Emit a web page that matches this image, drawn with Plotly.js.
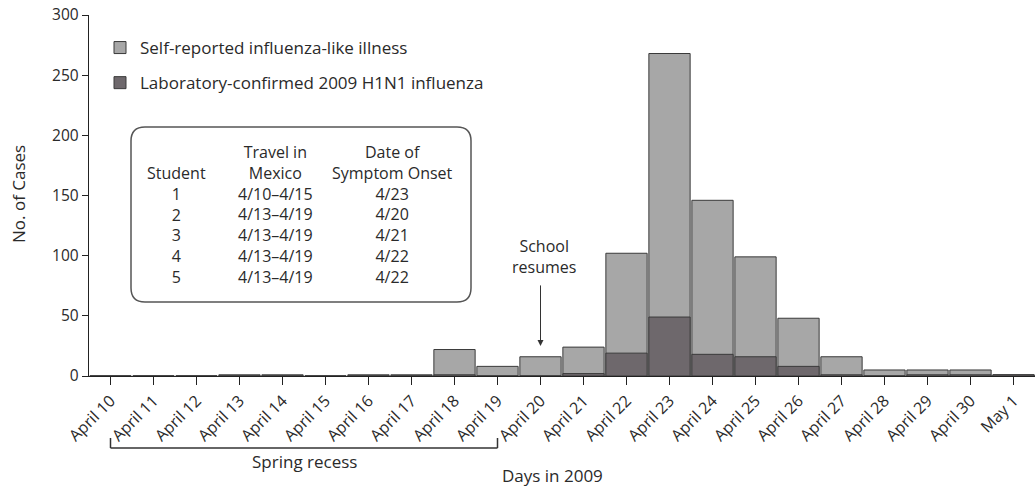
<!DOCTYPE html>
<html>
<head>
<meta charset="utf-8">
<script src="https://cdn.plot.ly/plotly-3.0.1.min.js"></script>
<style>html,body{margin:0;padding:0;background:#fff;}</style>
</head>
<body>
<div id="chart" style="width:1035px;height:488px;"></div>
<script>
// ---- data ----
const days = ["April 10","April 11","April 12","April 13","April 14","April 15","April 16","April 17",
  "April 18","April 19","April 20","April 21","April 22","April 23","April 24","April 25","April 26",
  "April 27","April 28","April 29","April 30","May 1"];
const selfReported = [0,0,0,1,1,0,1,1,22,8,16,24,102,268,146,99,48,16,5,5,5,1];
const labConfirmed = [0,0,0,0,0,0,0,0,1,0,0,2,19,49,18,16,8,1,0,1,1,1];
const yTicks = [0,50,100,150,200,250,300];

const students = ["1","2","3","4","5"];
const travelInMexico = ["4/10\u20134/15","4/13\u20134/19","4/13\u20134/19","4/13\u20134/19","4/13\u20134/19"];
const symptomOnset = ["4/23","4/20","4/21","4/22","4/22"];

// ---- layout helpers (pixel -> paper) ----
const W = 1035, H = 488, ML = 89, MR = 0, MT = 15, MB = 112;
const PW = W - ML - MR, PH = H - MT - MB;
const px = x => (x - ML) / PW;
const py = y => (H - MB - y) / PH;

const FONT = "Open Sans, DejaVu Sans, sans-serif";
const TXT = "#2a2a2a";

const traces = [
  {type:"bar", name:"Self-reported influenza-like illness", x:days, y:selfReported,
   marker:{color:"#a7a7a7", line:{color:"#3a3a3a", width:1}}, legendgroup:"a"},
  {type:"bar", name:"Laboratory-confirmed 2009 H1N1 influenza", x:days, y:labConfirmed,
   marker:{color:"#6e686c", line:{color:"#3a3a3a", width:1}}, legendgroup:"b"}
];

// rounded rectangle for the table box
function roundRect(x0,y0,x1,y1,r){
  const X = v => px(v), Y = v => py(v);
  return `M ${X(x0+r)},${Y(y0)} L ${X(x1-r)},${Y(y0)} Q ${X(x1)},${Y(y0)} ${X(x1)},${Y(y0+r)} ` +
         `L ${X(x1)},${Y(y1-r)} Q ${X(x1)},${Y(y1)} ${X(x1-r)},${Y(y1)} ` +
         `L ${X(x0+r)},${Y(y1)} Q ${X(x0)},${Y(y1)} ${X(x0)},${Y(y1-r)} ` +
         `L ${X(x0)},${Y(y0+r)} Q ${X(x0)},${Y(y0)} ${X(x0+r)},${Y(y0)} Z`;
}

const shapes = [
  {type:"path", xref:"paper", yref:"paper", path:roundRect(131,127,471,302,14),
   line:{color:"#555", width:1.5}, fillcolor:"rgba(255,255,255,0)"},
  // spring recess bracket
  {type:"line", xref:"x", yref:"paper", x0:days[0], x1:days[0], y0:py(438), y1:py(448), line:{color:"#333", width:1.5}},
  {type:"line", xref:"x", yref:"paper", x0:days[0], x1:days[9], y0:py(448), y1:py(448), line:{color:"#333", width:1.5}},
  {type:"line", xref:"x", yref:"paper", x0:days[9], x1:days[9], y0:py(438), y1:py(448), line:{color:"#333", width:1.5}}
];

const ann = [];
const tfont = {family:FONT, size:17, color:TXT};
function txt(x, y, s, extra){ ann.push(Object.assign({xref:"paper", yref:"paper", x:px(x), y:py(y), text:s,
  showarrow:false, xanchor:"center", yanchor:"middle", font:tfont}, extra||{})); }

// table: one multi-line text per column (line pitch ~20.8px at 16px)
const TF = {family:FONT, size:16, color:TXT};
const colStudent = 176, colTravel = 275, colOnset = 392;
const TOP = 140; // top of first line
function col(x, lines){ ann.push({xref:"paper", yref:"paper", x:px(x), y:py(TOP), text:lines.join("<br>"),
  showarrow:false, xanchor:"center", yanchor:"top", align:"center", font:TF, borderpad:0}); }
col(colTravel, ["Travel in", "Mexico"].concat(travelInMexico));
col(colOnset, ["Date of", "Symptom Onset"].concat(symptomOnset));
ann.push({xref:"paper", yref:"paper", x:px(colStudent), y:py(TOP + 20.8), text:["Student"].concat(students).join("<br>"),
  showarrow:false, xanchor:"center", yanchor:"top", align:"center", font:TF, borderpad:0});

// school resumes
txt(544, 256, "School<br>resumes", {font:{family:FONT, size:16, color:TXT}});
ann.push({xref:"x", yref:"y", x:days[10], y:selfReported[10] + 9, text:"", showarrow:true,
  ax:0, ay:-62, arrowhead:2, arrowsize:1.2, arrowwidth:1, arrowcolor:"#333"});
// labels
txt(304, 461, "Spring recess");
txt(552, 475, "Days in 2009", {font:{family:FONT, size:17, color:TXT}});
txt(18, 194, "No. of Cases", {textangle:-90});

const layout = {
  width:W, height:H,
  margin:{l:ML, r:MR, t:MT, b:MB},
  paper_bgcolor:"#fff", plot_bgcolor:"#fff",
  barmode:"overlay", bargap:0.04,
  font:{family:FONT, size:16, color:TXT},
  showlegend:true,
  legend:{x:px(100), y:py(30), xanchor:"left", yanchor:"top", traceorder:"grouped", tracegroupgap:10,
    font:{family:FONT, size:17, color:TXT}, bgcolor:"rgba(0,0,0,0)", borderwidth:0},
  xaxis:{type:"category", categoryarray:days, categoryorder:"array", range:[-0.5, 21.5],
    showline:true, linecolor:"#222", linewidth:1.2, ticks:"outside", ticklen:8, tickcolor:"#222",
    tickangle:-45, tickfont:{family:FONT, size:16, color:TXT}, showgrid:false, zeroline:false, fixedrange:true},
  yaxis:{range:[0,300], tickvals:yTicks, ticks:"outside", ticklen:6, tickcolor:"#222",
    showline:true, linecolor:"#222", linewidth:1.2, tickfont:{family:FONT, size:15.5, color:TXT},
    showgrid:false, zeroline:false, fixedrange:true},
  shapes:shapes,
  annotations:ann
};

Plotly.newPlot("chart", traces, layout, {displayModeBar:false, staticPlot:true});
</script>
</body>
</html>
